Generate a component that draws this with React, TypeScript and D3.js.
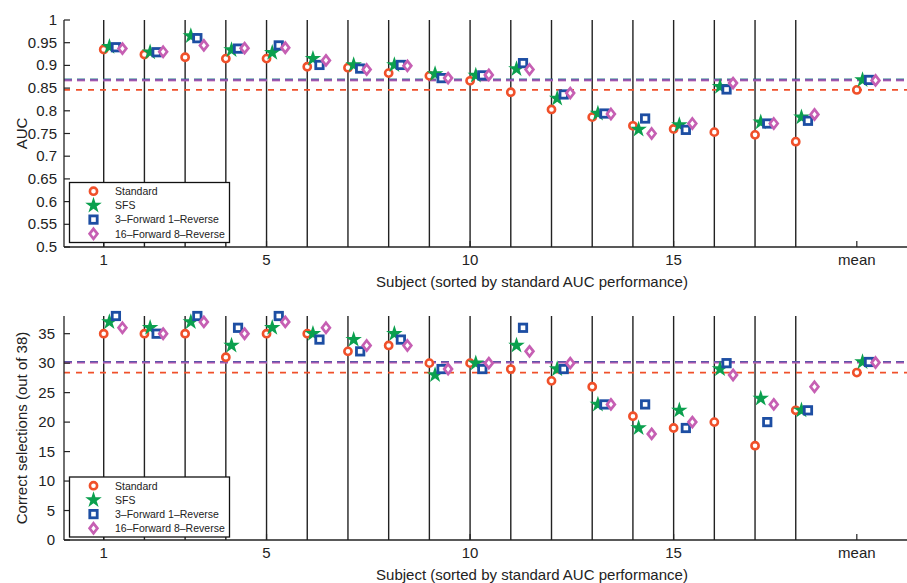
import React from "react";
import * as d3 from "d3";

// subjects sorted by standard AUC, plus a "mean" column
const subjects = [1, 2, 3, 4, 5, 6, 7, 8, 9, 10, 11, 12, 13, 14, 15, 16, 17, 18];
const MEAN_POS = 19.5;
const xTickValues = [1, 5, 10, 15, MEAN_POS];
const xTickLabels = ["1", "5", "10", "15", "mean"];

const seriesNames = ["Standard", "SFS", "3\u2013Forward 1\u2013Reverse", "16\u2013Forward 8\u2013Reverse"];
const seriesColors = ["#f0502a", "#0ba04e", "#1d4ea3", "#c65fb3"];

// AUC per subject
const aucStandard = [0.935, 0.924, 0.918, 0.915, 0.915, 0.897, 0.895, 0.883, 0.877, 0.866, 0.841, 0.803, 0.786, 0.767, 0.760, 0.753, 0.747, 0.732];
const aucSFS = [0.941, 0.929, 0.965, 0.934, 0.928, 0.915, 0.901, 0.901, 0.881, 0.878, 0.892, 0.827, 0.794, 0.759, 0.769, 0.853, 0.775, 0.786];
const auc3F1R = [0.940, 0.929, 0.960, 0.937, 0.944, 0.901, 0.893, 0.901, 0.872, 0.878, 0.905, 0.836, 0.794, 0.783, 0.758, 0.847, 0.772, 0.778];
const auc16F8R = [0.937, 0.930, 0.944, 0.938, 0.939, 0.911, 0.891, 0.899, 0.872, 0.879, 0.891, 0.839, 0.793, 0.750, 0.772, 0.861, 0.772, 0.792];
const aucMeans = [0.846, 0.868, 0.868, 0.867];

// correct selections (out of 38)
const selStandard = [35, 35, 35, 31, 35, 35, 32, 33, 30, 30, 29, 27, 26, 21, 19, 20, 16, 22];
const selSFS = [37, 36, 37, 33, 36, 35, 34, 35, 28, 30, 33, 29, 23, 19, 22, 29, 24, 22];
const sel3F1R = [38, 35, 38, 36, 38, 34, 32, 34, 29, 29, 36, 29, 23, 23, 19, 30, 20, 22];
const sel16F8R = [36, 35, 37, 35, 37, 36, 33, 33, 29, 30, 32, 30, 23, 18, 20, 28, 23, 26];
const selMeans = [28.4, 30.2, 30.2, 30.1];

const aucTicks = [0.5, 0.55, 0.6, 0.65, 0.7, 0.75, 0.8, 0.85, 0.9, 0.95, 1];
const selTicks = [0, 5, 10, 15, 20, 25, 30, 35];

const W = 907;
const H = 583;
const FONT = "'Liberation Sans', Arial, Helvetica, sans-serif";
const offsets = [0, 0.14, 0.3, 0.46];

const x = d3.scaleLinear().domain([0, 20.75]).range([63, 907.7]);

function Marker({ k, cx, cy }: { k: number; cx: number; cy: number }) {
  const c = seriesColors[k];
  if (k === 0) return <circle cx={cx} cy={cy} r={3.6} fill="white" stroke={c} strokeWidth={2.6} />;
  if (k === 1)
    return <path d={d3.symbol(d3.symbolStar, 85)() || ""} transform={`translate(${cx},${cy})`} fill={c} />;
  if (k === 2) return <rect x={cx - 3.7} y={cy - 3.7} width={7.4} height={7.4} fill="white" stroke={c} strokeWidth={2.8} />;
  return (
    <path d="M0,-5L3.9,0L0,5L-3.9,0Z" transform={`translate(${cx},${cy})`} fill="white" stroke={c} strokeWidth={2.7} />
  );
}

type PanelProps = {
  top: number;
  bottom: number;
  domain: [number, number];
  ticks: number[];
  values: number[][];
  means: number[];
  label: string;
  legendY: number;
  labelEnd: number;
};

function Panel({ top, bottom, domain, ticks, values, means, label, legendY, labelEnd }: PanelProps) {
  const y = d3.scaleLinear().domain(domain).range([bottom, top]);
  const [x0, x1] = [64, W];
  const dash = ["6,6", "8,5", "8,5", "8,5"];
  return (
    <g>
      {/* subject separators */}
      {subjects.map((s) => (
        <line key={s} x1={x(s)} x2={x(s)} y1={top} y2={bottom} stroke="#222" strokeWidth={1.4} />
      ))}
      {/* mean reference lines */}
      {[1, 2, 0, 3].map((k) => (
        <line
          key={k}
          x1={x0}
          x2={x1}
          y1={y(means[k])}
          y2={y(means[k])}
          stroke={seriesColors[k]}
          strokeWidth={k === 0 ? 1.8 : 2.2}
          strokeDasharray={dash[k]}
          opacity={k === 3 ? 0.75 : 1}
        />
      ))}
      {/* axes */}
      <line x1={x0} x2={x0} y1={top} y2={bottom} stroke="#222" strokeWidth={1.3} />
      <line x1={x0} x2={x1} y1={bottom} y2={bottom} stroke="#222" strokeWidth={1.3} />
      {ticks.map((t) => (
        <g key={t}>
          <line x1={x0} x2={x0 + 6} y1={y(t)} y2={y(t)} stroke="#222" strokeWidth={1.2} />
          <text x={labelEnd} y={y(t) + 5} textAnchor="end" fontSize={15} fontFamily={FONT} fill="#222">
            {String(+t.toFixed(2))}
          </text>
        </g>
      ))}
      {xTickValues.map((t, i) => (
        <g key={t}>
          <line x1={x(t)} x2={x(t)} y1={bottom} y2={bottom - 6} stroke="#222" strokeWidth={1.2} />
          <text x={x(t)} y={bottom + 18} textAnchor="middle" fontSize={15} fontFamily={FONT} fill="#222">
            {xTickLabels[i]}
          </text>
        </g>
      ))}
      <text x={532} y={bottom + 40} textAnchor="middle" fontSize={15} fontFamily={FONT} fill="#222">
        Subject (sorted by standard AUC performance)
      </text>
      <text
        transform={`translate(27,${(top + bottom) / 2}) rotate(-90)`}
        textAnchor="middle"
        fontSize={15}
        fontFamily={FONT}
        fill="#222"
      >
        {label}
      </text>
      {/* markers */}
      {values.map((vals, k) =>
        vals.map((v, i) => <Marker key={`${k}-${i}`} k={k} cx={x(subjects[i] + offsets[k])} cy={y(v)} />)
      )}
      {means.map((v, k) => (
        <Marker key={`m${k}`} k={k} cx={x(MEAN_POS + offsets[k])} cy={y(v)} />
      ))}
      {/* legend */}
      <g transform={`translate(69.5,${legendY})`}>
        <rect width={160} height={60} fill="white" stroke="#111" strokeWidth={1.3} />
        {seriesNames.map((n, k) => (
          <g key={n} transform={`translate(0,${8.7 + k * 14.2})`}>
            <Marker k={k} cx={24} cy={0} />
            <text x={45.5} y={3.8} fontSize={10.5} fontFamily={FONT} fill="#222">
              {n}
            </text>
          </g>
        ))}
      </g>
    </g>
  );
}

export default function App() {
  return (
    <svg width={W} height={H} style={{ position: "absolute", left: 0, top: 0, background: "white" }}>
      <Panel
        top={20}
        bottom={247}
        domain={[0.5, 1]}
        ticks={aucTicks}
        values={[aucStandard, aucSFS, auc3F1R, auc16F8R]}
        means={aucMeans}
        label="AUC"
        legendY={182.5}
        labelEnd={57}
      />
      <Panel
        top={316}
        bottom={540}
        domain={[0, 38]}
        ticks={selTicks}
        values={[selStandard, selSFS, sel3F1R, sel16F8R]}
        means={selMeans}
        label="Correct selections (out of 38)"
        legendY={477}
        labelEnd={55}
      />
    </svg>
  );
}
